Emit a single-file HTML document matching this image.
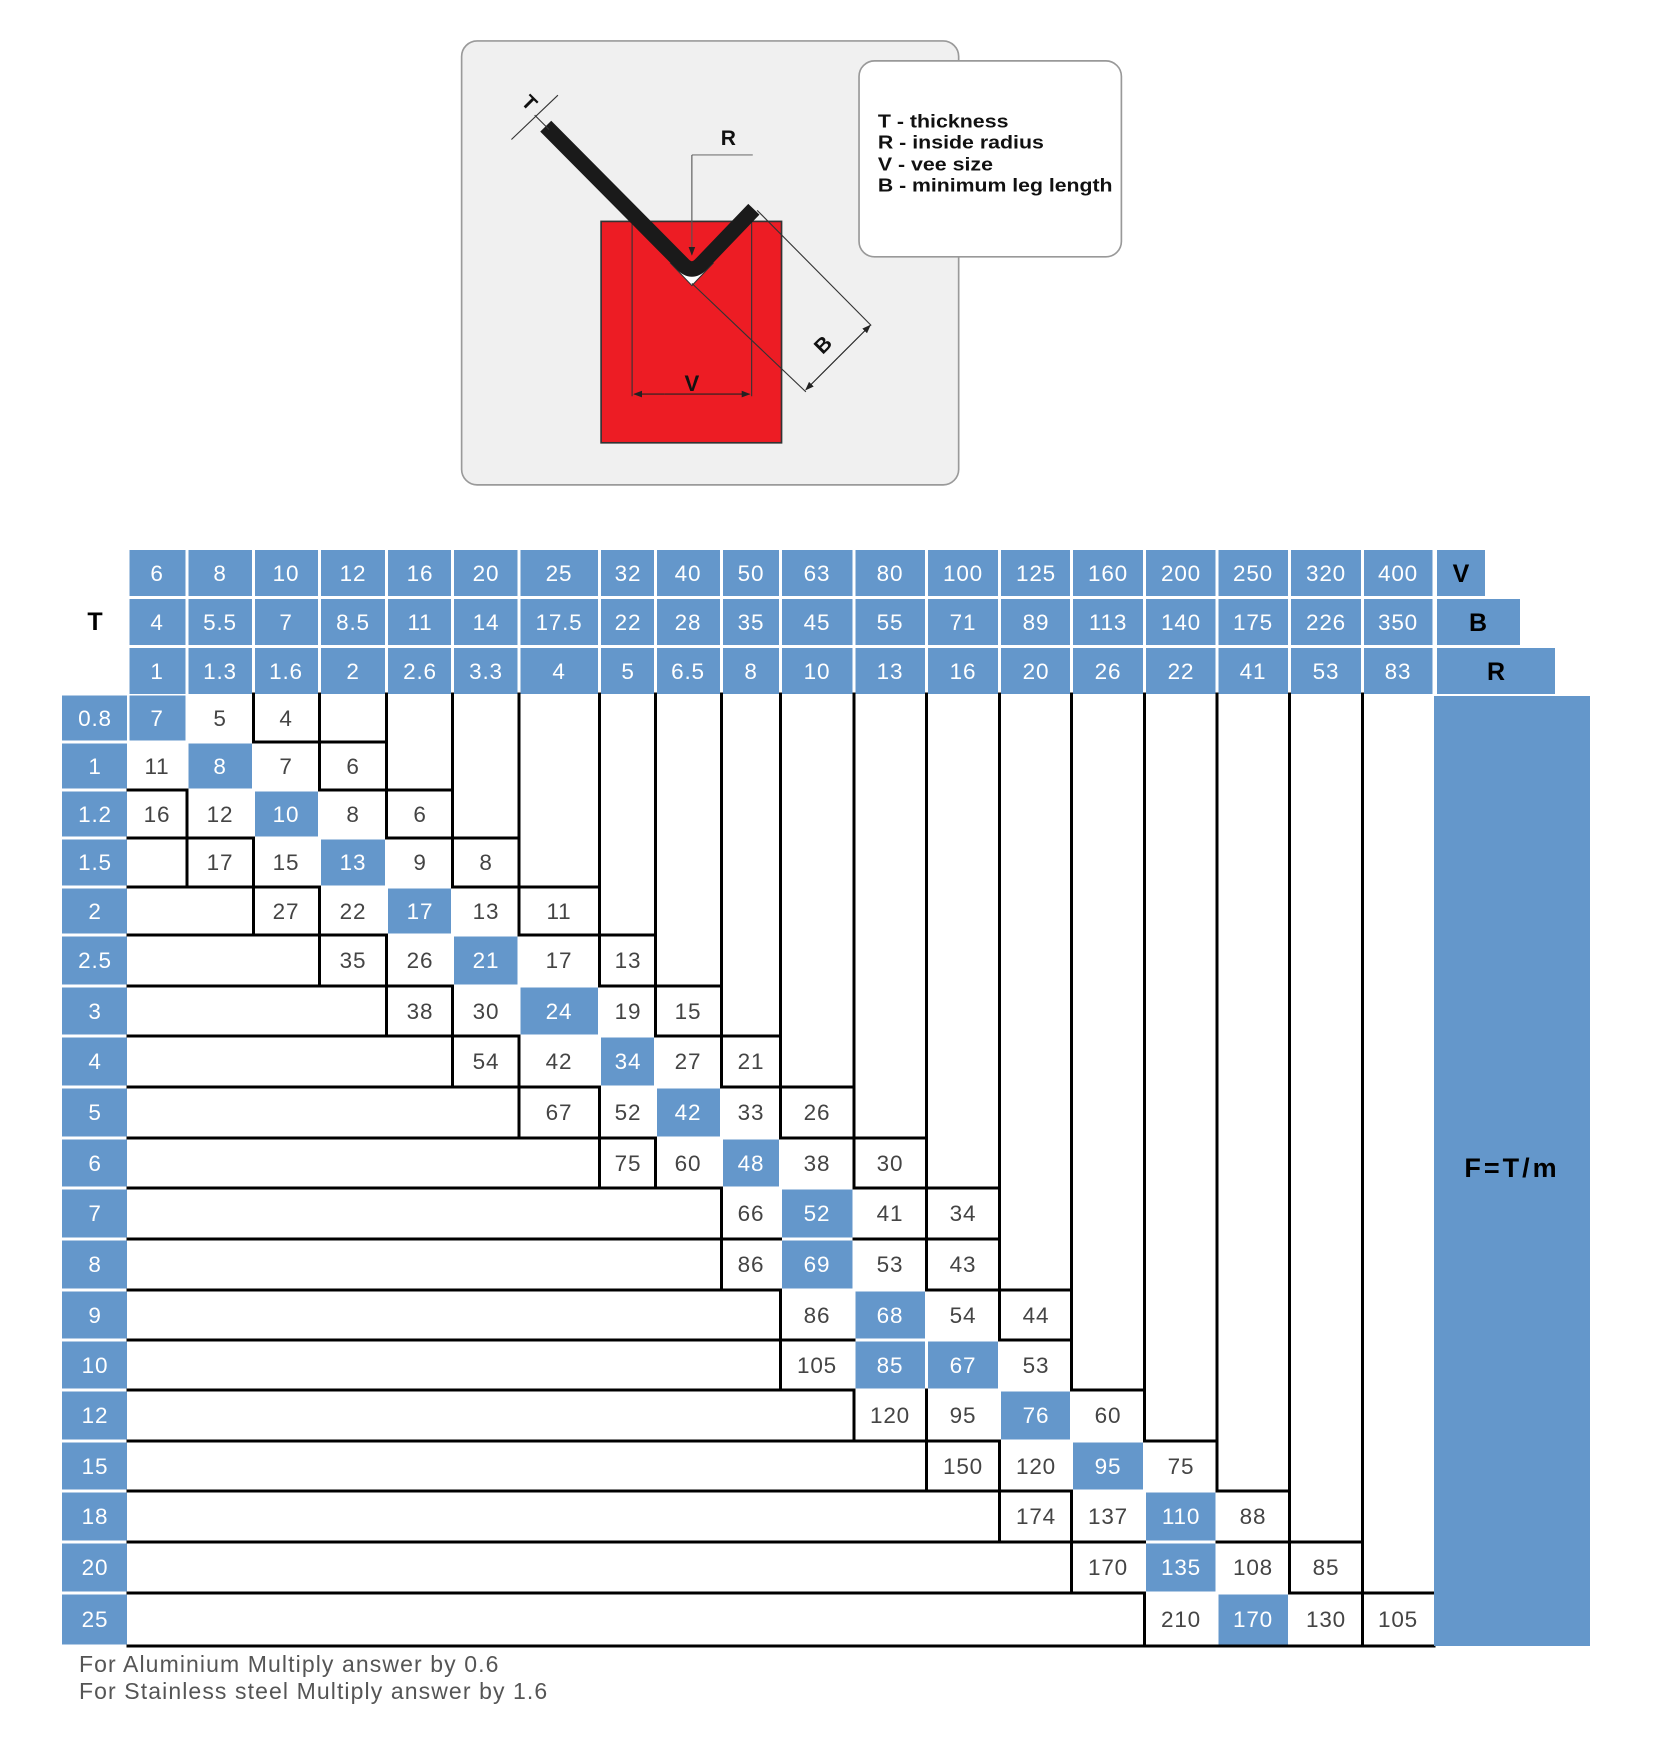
<!DOCTYPE html>
<html><head><meta charset="utf-8">
<style>
html,body{margin:0;padding:0;background:#fff;}
svg{display:block;}
text{font-family:"Liberation Sans",sans-serif;}
.v{font-size:22.5px;fill:#444;text-anchor:middle;letter-spacing:0.8px;}
.w{font-size:22.5px;fill:#fff;text-anchor:middle;letter-spacing:0.8px;}
.k{font-size:25px;fill:#000;font-weight:bold;text-anchor:middle;}
</style></head>
<body>
<svg id="s" width="1653" height="1740" viewBox="0 0 1653 1740" xmlns="http://www.w3.org/2000/svg">
<defs>
<marker id="ar" markerWidth="8" markerHeight="8" refX="7" refY="4" orient="auto" markerUnits="userSpaceOnUse"><path d="M0,1 L8,4 L0,7 z" fill="#222"/></marker>
</defs>
<g transform="scale(1.107)">
 <rect x="417" y="37" width="449" height="401" rx="14" fill="#f0f0f0" stroke="#9a9a9a" stroke-width="1.5"/>
 <rect x="776" y="55" width="237" height="177" rx="14" fill="#fff" stroke="#999" stroke-width="1.5"/>
 <g font-weight="bold" font-size="17" fill="#111">
  <text x="793" y="115" textLength="118" lengthAdjust="spacingAndGlyphs">T - thickness</text>
  <text x="793" y="134" textLength="150" lengthAdjust="spacingAndGlyphs">R - inside radius</text>
  <text x="793" y="154" textLength="104" lengthAdjust="spacingAndGlyphs">V - vee size</text>
  <text x="793" y="173" textLength="212" lengthAdjust="spacingAndGlyphs">B - minimum leg length</text>
 </g>
 <rect x="543" y="200" width="163" height="200" fill="#ed1c24" stroke="#333" stroke-width="1.5"/>
 <line x1="571" y1="200" x2="571" y2="358" stroke="#333" stroke-width="1"/>
 <line x1="679" y1="200" x2="679" y2="358" stroke="#333" stroke-width="1"/>
 <line x1="600" y1="356" x2="573" y2="356" stroke="#222" stroke-width="1" marker-end="url(#ar)"/>
 <line x1="650" y1="356" x2="677" y2="356" stroke="#222" stroke-width="1" marker-end="url(#ar)"/>
 <line x1="600" y1="356" x2="650" y2="356" stroke="#222" stroke-width="1"/>
 <text x="625" y="353" font-size="20" font-weight="bold" text-anchor="middle" fill="#111">V</text>
 <polygon points="606,238 644,238 625,258" fill="#fff" stroke="#333" stroke-width="1"/>
 <line x1="625" y1="256" x2="728" y2="354" stroke="#333" stroke-width="1"/>
 <line x1="684" y1="190" x2="787" y2="294" stroke="#333" stroke-width="1"/>
 <line x1="757" y1="323" x2="786" y2="294" stroke="#222" stroke-width="1" marker-end="url(#ar)"/>
 <line x1="757" y1="323" x2="728" y2="352" stroke="#222" stroke-width="1" marker-end="url(#ar)"/>
 <path d="M493,114 L616,238 Q625,248 634,238 L681,189" fill="none" stroke="#1a1a1a" stroke-width="14" stroke-linejoin="round"/>
 <text x="0" y="0" font-size="19" font-weight="bold" fill="#111" transform="translate(748,316) rotate(-45)" text-anchor="middle">B</text>
 <line x1="625" y1="140" x2="680" y2="140" stroke="#777" stroke-width="1"/>
 <line x1="625" y1="140" x2="625" y2="230" stroke="#555" stroke-width="1" marker-end="url(#ar)"/>
 <text x="658" y="131" font-size="19" font-weight="bold" text-anchor="middle" fill="#111">R</text>
 <line x1="462" y1="126" x2="504" y2="86" stroke="#333" stroke-width="1"/>
 <line x1="483" y1="104" x2="496" y2="117" stroke="#333" stroke-width="1"/>
 <text x="0" y="0" font-size="18" font-weight="bold" fill="#111" transform="translate(474,97) rotate(45)" text-anchor="middle">T</text>
</g>

<g id="rects"></g>
<g id="lines" stroke="#000" stroke-width="3" stroke-linecap="square"></g>

<rect x="1437" y="550" width="48" height="46" fill="#6497cb"/>
<rect x="1437" y="599" width="83" height="46" fill="#6497cb"/>
<rect x="1437" y="648" width="118" height="46" fill="#6497cb"/>
<rect x="1434" y="696" width="156" height="950" fill="#6497cb"/>
<text class="k" x="1461" y="582">V</text>
<text class="k" x="1478" y="631">B</text>
<text class="k" x="1496" y="680">R</text>
<text class="k" x="1512" y="1177" style="font-size:27px;letter-spacing:3px">F=T/m</text>
<text class="k" x="95" y="630">T</text>

<g class="w">
<text x="157" y="581">6</text><text x="220" y="581">8</text><text x="286" y="581">10</text><text x="353" y="581">12</text><text x="420" y="581">16</text><text x="486" y="581">20</text><text x="559" y="581">25</text><text x="628" y="581">32</text><text x="688" y="581">40</text><text x="751" y="581">50</text><text x="817" y="581">63</text><text x="890" y="581">80</text><text x="963" y="581">100</text><text x="1036" y="581">125</text><text x="1108" y="581">160</text><text x="1181" y="581">200</text><text x="1253" y="581">250</text><text x="1326" y="581">320</text><text x="1398" y="581">400</text>
<text x="157" y="630">4</text><text x="220" y="630">5.5</text><text x="286" y="630">7</text><text x="353" y="630">8.5</text><text x="420" y="630">11</text><text x="486" y="630">14</text><text x="559" y="630">17.5</text><text x="628" y="630">22</text><text x="688" y="630">28</text><text x="751" y="630">35</text><text x="817" y="630">45</text><text x="890" y="630">55</text><text x="963" y="630">71</text><text x="1036" y="630">89</text><text x="1108" y="630">113</text><text x="1181" y="630">140</text><text x="1253" y="630">175</text><text x="1326" y="630">226</text><text x="1398" y="630">350</text>
<text x="157" y="679">1</text><text x="220" y="679">1.3</text><text x="286" y="679">1.6</text><text x="353" y="679">2</text><text x="420" y="679">2.6</text><text x="486" y="679">3.3</text><text x="559" y="679">4</text><text x="628" y="679">5</text><text x="688" y="679">6.5</text><text x="751" y="679">8</text><text x="817" y="679">10</text><text x="890" y="679">13</text><text x="963" y="679">16</text><text x="1036" y="679">20</text><text x="1108" y="679">26</text><text x="1181" y="679">22</text><text x="1253" y="679">41</text><text x="1326" y="679">53</text><text x="1398" y="679">83</text>
<text x="95" y="726">0.8</text><text x="95" y="774">1</text><text x="95" y="822">1.2</text><text x="95" y="870">1.5</text><text x="95" y="919">2</text><text x="95" y="968">2.5</text><text x="95" y="1019">3</text><text x="95" y="1069">4</text><text x="95" y="1120">5</text><text x="95" y="1171">6</text><text x="95" y="1221">7</text><text x="95" y="1272">8</text><text x="95" y="1323">9</text><text x="95" y="1373">10</text><text x="95" y="1423">12</text><text x="95" y="1474">15</text><text x="95" y="1524">18</text><text x="95" y="1575">20</text><text x="95" y="1627">25</text>
<text x="157" y="726">7</text><text x="220" y="774">8</text><text x="286" y="822">10</text><text x="353" y="870">13</text><text x="420" y="919">17</text><text x="486" y="968">21</text><text x="559" y="1019">24</text><text x="628" y="1069">34</text><text x="688" y="1120">42</text><text x="751" y="1171">48</text><text x="817" y="1221">52</text><text x="817" y="1272">69</text><text x="890" y="1323">68</text><text x="890" y="1373">85</text><text x="963" y="1373">67</text><text x="1036" y="1423">76</text><text x="1108" y="1474">95</text><text x="1181" y="1524">110</text><text x="1181" y="1575">135</text><text x="1253" y="1627">170</text>
</g>
<g class="v">
<text x="220" y="726">5</text><text x="286" y="726">4</text>
<text x="157" y="774">11</text><text x="286" y="774">7</text><text x="353" y="774">6</text>
<text x="157" y="822">16</text><text x="220" y="822">12</text><text x="353" y="822">8</text><text x="420" y="822">6</text>
<text x="220" y="870">17</text><text x="286" y="870">15</text><text x="420" y="870">9</text><text x="486" y="870">8</text>
<text x="286" y="919">27</text><text x="353" y="919">22</text><text x="486" y="919">13</text><text x="559" y="919">11</text>
<text x="353" y="968">35</text><text x="420" y="968">26</text><text x="559" y="968">17</text><text x="628" y="968">13</text>
<text x="420" y="1019">38</text><text x="486" y="1019">30</text><text x="628" y="1019">19</text><text x="688" y="1019">15</text>
<text x="486" y="1069">54</text><text x="559" y="1069">42</text><text x="688" y="1069">27</text><text x="751" y="1069">21</text>
<text x="559" y="1120">67</text><text x="628" y="1120">52</text><text x="751" y="1120">33</text><text x="817" y="1120">26</text>
<text x="628" y="1171">75</text><text x="688" y="1171">60</text><text x="817" y="1171">38</text><text x="890" y="1171">30</text>
<text x="751" y="1221">66</text><text x="890" y="1221">41</text><text x="963" y="1221">34</text>
<text x="751" y="1272">86</text><text x="890" y="1272">53</text><text x="963" y="1272">43</text>
<text x="817" y="1323">86</text><text x="963" y="1323">54</text><text x="1036" y="1323">44</text>
<text x="817" y="1373">105</text><text x="1036" y="1373">53</text>
<text x="890" y="1423">120</text><text x="963" y="1423">95</text><text x="1108" y="1423">60</text>
<text x="963" y="1474">150</text><text x="1036" y="1474">120</text><text x="1181" y="1474">75</text>
<text x="1036" y="1524">174</text><text x="1108" y="1524">137</text><text x="1253" y="1524">88</text>
<text x="1108" y="1575">170</text><text x="1253" y="1575">108</text><text x="1326" y="1575">85</text>
<text x="1181" y="1627">210</text><text x="1326" y="1627">130</text><text x="1398" y="1627">105</text>
</g>
<text x="79" y="1672" font-size="23" fill="#555" letter-spacing="1.1">For Aluminium Multiply answer by 0.6</text>
<text x="79" y="1699" font-size="23" fill="#555" letter-spacing="1.1">For Stainless steel Multiply answer by 1.6</text>
</svg>
<script>
(function(){
var NS="http://www.w3.org/2000/svg";
var X=[128,187,253.5,319.5,386.5,452.5,519,599.5,655.5,721.5,780.5,854,926.5,999.5,1071.5,1144.5,1217,1289.5,1362.5,1434];
var Y=[694,742,790,838,887,935,986,1036,1087,1138,1188,1239,1290,1340,1390,1441,1491,1542,1593,1646];
var R=[[0,3,0],[0,4,1],[0,5,2],[1,5,3],[2,5,4],[3,5,5],[4,5,6],[5,5,7],[6,5,8],[7,5,9],[9,4,10],[9,4,10],[10,4,11],[10,4,11,12],[11,4,13],[12,4,14],[13,4,15],[14,4,15],[15,4,16]];
var C="#6497cb";
var rg=document.getElementById("rects"),lg=document.getElementById("lines");
function rect(x,y,w,h){var e=document.createElementNS(NS,"rect");e.setAttribute("x",x);e.setAttribute("y",y);e.setAttribute("width",w);e.setAttribute("height",h);e.setAttribute("fill",C);rg.appendChild(e);}
function line(x1,y1,x2,y2){var e=document.createElementNS(NS,"line");e.setAttribute("x1",x1);e.setAttribute("y1",y1);e.setAttribute("x2",x2);e.setAttribute("y2",y2);lg.appendChild(e);}
var HY=[[550,596],[599,645],[648,694]];
for(var c=0;c<19;c++){for(var h=0;h<3;h++){rect(X[c]+1.5,HY[h][0],X[c+1]-X[c]-3,HY[h][1]-HY[h][0]);}}
for(var r=0;r<19;r++){rect(62,Y[r]+1.5,65,Y[r+1]-Y[r]-3);}
function t(r,c){var d=R[r];if(c<d[0])return"L";if(c>=d[0]+d[1])return"R";if(c==d[2]||c==d[3])return"B";return"V";}
for(var r=0;r<19;r++){var d=R[r];rect(X[d[2]]+1.5,Y[r]+1.5,X[d[2]+1]-X[d[2]]-3,Y[r+1]-Y[r]-3);if(d[3]!==undefined)rect(X[d[3]]+1.5,Y[r]+1.5,X[d[3]+1]-X[d[3]]-3,Y[r+1]-Y[r]-3);}
for(var r=0;r<19;r++)for(var c=0;c<18;c++){var a=t(r,c),b=t(r,c+1);if(a=="B"||b=="B"||(a=="L"&&b=="L"))continue;line(X[c+1],Y[r],X[c+1],Y[r+1]);}
for(var r=0;r<18;r++)for(var c=0;c<19;c++){var a=t(r,c),b=t(r+1,c);if(a=="B"||b=="B"||(a=="R"&&b=="R"))continue;line(X[c],Y[r+1],X[c+1],Y[r+1]);}
line(128,1646,1434,1646);
})();
</script>
</body></html>
